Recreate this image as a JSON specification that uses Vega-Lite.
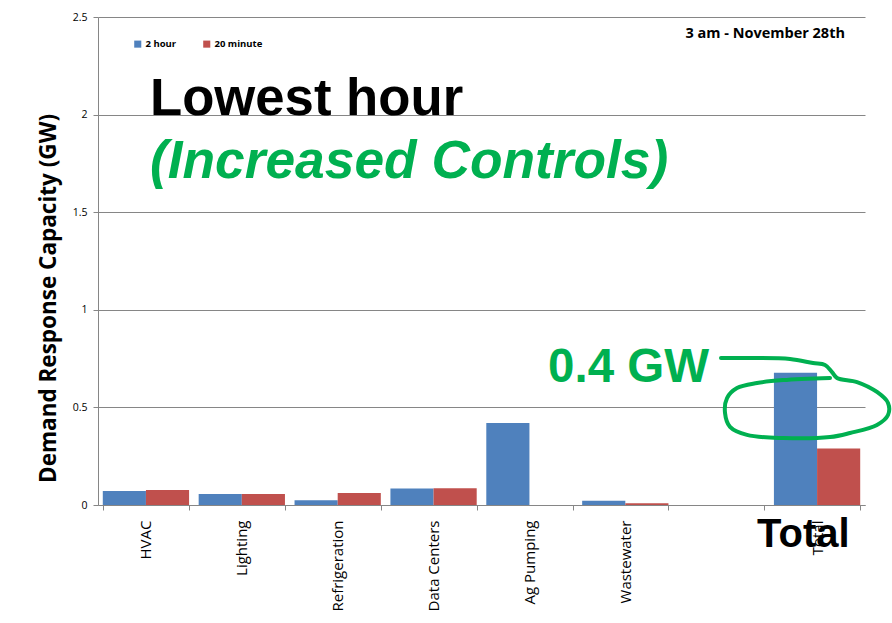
{
  "$schema": "https://vega.github.io/schema/vega-lite/v6.json",
  "width": 767,
  "height": 488,
  "autosize": {"type": "none"},
  "padding": {"left": 98, "top": 17, "right": 27, "bottom": 118},
  "background": "white",
  "config": {"view": {"stroke": null}},
  "datasets": {
    "bars": [
      {"category": "HVAC", "series": "2 hour", "value": 0.072},
      {"category": "HVAC", "series": "20 minute", "value": 0.077},
      {"category": "Lighting", "series": "2 hour", "value": 0.056},
      {"category": "Lighting", "series": "20 minute", "value": 0.056},
      {"category": "Refrigeration", "series": "2 hour", "value": 0.024},
      {"category": "Refrigeration", "series": "20 minute", "value": 0.061},
      {"category": "Data Centers", "series": "2 hour", "value": 0.085},
      {"category": "Data Centers", "series": "20 minute", "value": 0.086},
      {"category": "Ag Pumping", "series": "2 hour", "value": 0.42},
      {"category": "Ag Pumping", "series": "20 minute", "value": 0},
      {"category": "Wastewater", "series": "2 hour", "value": 0.022},
      {"category": "Wastewater", "series": "20 minute", "value": 0.009},
      {"category": "Total", "series": "2 hour", "value": 0.678},
      {"category": "Total", "series": "20 minute", "value": 0.29}
    ],
    "loop": [
      {"i": 1, "x": 6.498, "y": 0.753},
      {"i": 2, "x": 6.769, "y": 0.753},
      {"i": 3, "x": 7.218, "y": 0.748},
      {"i": 4, "x": 7.458, "y": 0.727},
      {"i": 5, "x": 7.583, "y": 0.717},
      {"i": 6, "x": 7.656, "y": 0.681},
      {"i": 7, "x": 7.708, "y": 0.651},
      {"i": 8, "x": 7.917, "y": 0.630},
      {"i": 9, "x": 8.125, "y": 0.579},
      {"i": 10, "x": 8.240, "y": 0.523},
      {"i": 11, "x": 8.240, "y": 0.461},
      {"i": 12, "x": 8.125, "y": 0.410},
      {"i": 13, "x": 7.844, "y": 0.369},
      {"i": 14, "x": 7.635, "y": 0.348},
      {"i": 15, "x": 7.145, "y": 0.343},
      {"i": 16, "x": 6.769, "y": 0.359},
      {"i": 17, "x": 6.592, "y": 0.400},
      {"i": 18, "x": 6.540, "y": 0.471},
      {"i": 19, "x": 6.561, "y": 0.548},
      {"i": 20, "x": 6.665, "y": 0.599},
      {"i": 21, "x": 6.874, "y": 0.625},
      {"i": 22, "x": 7.145, "y": 0.640},
      {"i": 23, "x": 7.635, "y": 0.651}
    ]
  },
  "layer": [
    {
      "data": {"name": "bars"},
      "mark": {"type": "bar"},
      "encoding": {
        "x": {
          "field": "category",
          "type": "nominal",
          "sort": null,
          "scale": {
            "domain": ["HVAC", "Lighting", "Refrigeration", "Data Centers", "Ag Pumping", "Wastewater", "", "Total"],
            "paddingInner": 0.1,
            "paddingOuter": 0.05
          },
          "axis": {
            "title": null,
            "labelAngle": -90,
            "labelAlign": "right",
            "labelBaseline": "middle",
            "labelPadding": 10,
            "labelFont": "Open Sans",
            "labelFontSize": 15,
            "labelColor": "#000000",
            "tickBand": "extent",
            "tickSize": 5,
            "tickColor": "#868686",
            "domainColor": "#868686",
            "grid": false
          }
        },
        "xOffset": {
          "field": "series",
          "type": "nominal",
          "sort": ["2 hour", "20 minute"],
          "scale": {"paddingInner": 0, "paddingOuter": 0}
        },
        "y": {
          "field": "value",
          "type": "quantitative",
          "scale": {"domain": [0, 2.5], "nice": false},
          "axis": {
            "title": "Demand Response Capacity (GW)",
            "titleFont": "Open Sans",
            "titleFontSize": 22.5,
            "titleFontWeight": "bold",
            "titleColor": "#000000",
            "titleX": -50,
            "titleY": 281,
            "titleBaseline": "middle",
            "titleAlign": "center",
            "values": [0, 0.5, 1, 1.5, 2, 2.5],
            "format": "~g",
            "labelFont": "Open Sans",
            "labelFontSize": 10.5,
            "labelColor": "#000000",
            "labelPadding": 6,
            "tickSize": 5,
            "tickColor": "#868686",
            "domainColor": "#868686",
            "grid": true,
            "gridColor": "#868686"
          }
        },
        "color": {
          "field": "series",
          "type": "nominal",
          "scale": {"domain": ["2 hour", "20 minute"], "range": ["#4F81BD", "#C0504D"]},
          "legend": {
            "title": null,
            "orient": "none",
            "legendX": 35,
            "legendY": 22,
            "direction": "horizontal",
            "symbolType": "square",
            "symbolSize": 50,
            "symbolStrokeWidth": 0,
            "labelFont": "Open Sans",
            "labelFontSize": 9.5,
            "labelFontWeight": "bold",
            "labelColor": "#000000",
            "labelOffset": 3,
            "columnPadding": 25
          }
        }
      }
    },
    {
      "data": {"name": "loop"},
      "mark": {"type": "line", "color": "#00B050", "strokeWidth": 4, "interpolate": "catmull-rom", "strokeCap": "round", "clip": false},
      "encoding": {
        "x": {"field": "x", "type": "quantitative", "scale": {"domain": [0, 8], "nice": false, "zero": false}, "axis": null},
        "y": {"field": "y", "type": "quantitative", "scale": {"domain": [0, 2.5], "nice": false}, "axis": null},
        "order": {"field": "i", "type": "quantitative"}
      }
    },
    {
      "data": {"values": [{"label": "Lowest hour", "x": 0.542, "y": 1.998}]},
      "mark": {"type": "text", "font": "Liberation Sans", "fontSize": 52.7, "fontWeight": "bold", "color": "#000000", "align": "left", "baseline": "alphabetic"},
      "encoding": {
        "x": {"field": "x", "type": "quantitative", "scale": {"domain": [0, 8], "nice": false, "zero": false}, "axis": null},
        "y": {"field": "y", "type": "quantitative", "scale": {"domain": [0, 2.5], "nice": false}, "axis": null},
        "text": {"field": "label"}
      }
    },
    {
      "data": {"values": [{"label": "(Increased Controls)", "x": 0.542, "y": 1.675}]},
      "mark": {"type": "text", "font": "Liberation Sans", "fontSize": 53.3, "fontWeight": "bold", "fontStyle": "italic", "color": "#00B050", "align": "left", "baseline": "alphabetic"},
      "encoding": {
        "x": {"field": "x", "type": "quantitative", "scale": {"domain": [0, 8], "nice": false, "zero": false}, "axis": null},
        "y": {"field": "y", "type": "quantitative", "scale": {"domain": [0, 2.5], "nice": false}, "axis": null},
        "text": {"field": "label"}
      }
    },
    {
      "data": {"values": [{"label": "0.4 GW", "x": 4.694, "y": 0.63}]},
      "mark": {"type": "text", "font": "Liberation Sans", "fontSize": 47.5, "fontWeight": "bold", "color": "#00B050", "align": "left", "baseline": "alphabetic"},
      "encoding": {
        "x": {"field": "x", "type": "quantitative", "scale": {"domain": [0, 8], "nice": false, "zero": false}, "axis": null},
        "y": {"field": "y", "type": "quantitative", "scale": {"domain": [0, 2.5], "nice": false}, "axis": null},
        "text": {"field": "label"}
      }
    },
    {
      "data": {"values": [{"label": "Total", "x": 6.874, "y": -0.215}]},
      "mark": {"type": "text", "font": "Liberation Sans", "fontSize": 40, "fontWeight": "bold", "color": "#000000", "align": "left", "baseline": "alphabetic"},
      "encoding": {
        "x": {"field": "x", "type": "quantitative", "scale": {"domain": [0, 8], "nice": false, "zero": false}, "axis": null},
        "y": {"field": "y", "type": "quantitative", "scale": {"domain": [0, 2.5], "nice": false}, "axis": null},
        "text": {"field": "label"}
      }
    },
    {
      "data": {"values": [{"label": "3 am - November 28th", "x": 7.791, "y": 2.392}]},
      "mark": {"type": "text", "font": "Open Sans", "fontSize": 14.5, "fontWeight": "bold", "color": "#000000", "align": "right", "baseline": "alphabetic"},
      "encoding": {
        "x": {"field": "x", "type": "quantitative", "scale": {"domain": [0, 8], "nice": false, "zero": false}, "axis": null},
        "y": {"field": "y", "type": "quantitative", "scale": {"domain": [0, 2.5], "nice": false}, "axis": null},
        "text": {"field": "label"}
      }
    }
  ],
  "resolve": {"scale": {"x": "independent", "y": "independent"}}
}
